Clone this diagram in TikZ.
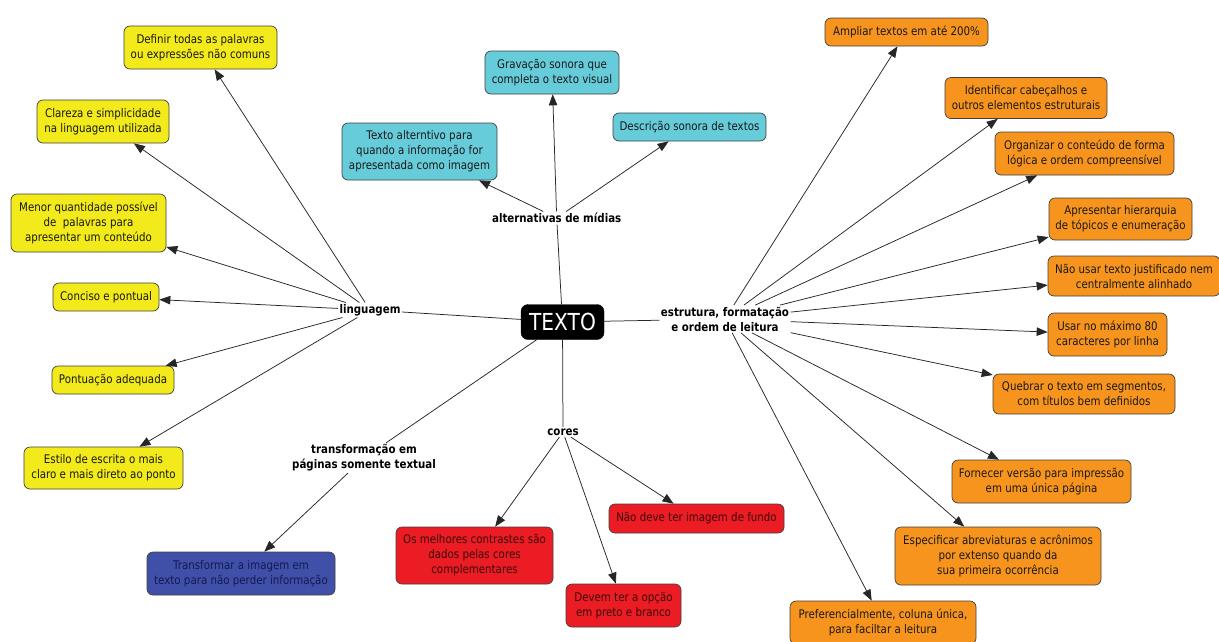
\documentclass[tikz,border=0pt]{standalone}
\usepackage{fontspec}
\setmainfont{DejaVu Sans}[FakeStretch=0.862]
\usetikzlibrary{arrows.meta}
\definecolor{cyel}{HTML}{F2EA1A}
\definecolor{ccya}{HTML}{66CCD9}
\definecolor{cora}{HTML}{F7941D}
\definecolor{cred}{HTML}{EC1C24}
\definecolor{cblu}{HTML}{4050A8}
\definecolor{credt}{HTML}{3A0808}
\definecolor{cblut}{HTML}{141A50}
\newcommand{\fs}{\fontsize{11.9}{15}\selectfont}
\tikzset{
  box/.style={draw=black!75, line width=0.7pt, rounded corners=6pt, align=center,
    inner sep=0pt, font=\fs, text=black!90},
  yel/.style={box, fill=cyel},
  cya/.style={box, fill=ccya},
  ora/.style={box, fill=cora},
  red/.style={box, fill=cred, text=credt},
  blu/.style={box, fill=cblu, text=cblut},
  lab/.style={font=\bfseries\fs, align=center, inner sep=1.5pt, text=black},
  conn/.style={draw=black!85, line width=0.75pt},
  arr/.style={conn, -{Triangle[length=11pt,width=8.5pt]}},
  sz/.style 2 args={minimum width=#1pt, minimum height=#2pt}
}
\begin{document}
\begin{tikzpicture}[x=1pt,y=-1pt]
\useasboundingbox (0,0) rectangle (1219,641);
\clip (0,0) rectangle (1219,641);
\fill[white] (0,0) rectangle (1219,641);

% center
\node[draw=black, fill=black, rounded corners=7pt, text=white, font=\fontsize{23.4}{25}\selectfont,
  minimum width=83pt, minimum height=35pt, inner sep=0pt] (texto) at (562.5,322) {TEXTO};

% labels
\node[lab] (ling) at (370,310) {linguagem};
\node[lab] (alti) at (556.7,218) {alternativas de mídias};
\node[lab] (estr) at (725,319) {estrutura, formatação\\e ordem de leitura};
\node[lab] (cores) at (563,432) {cores};
\node[lab] (transf) at (364,458) {transformação em\\páginas somente textual};

% yellow
\node[yel, sz={153}{43}] (def) at (200.5,47.5) {Definir todas as palavras\\ou expressões não comuns};
\node[yel, sz={132}{43}] (cla) at (103,121.5) {Clareza e simplicidade\\na linguagem utilizada};
\node[yel, sz={155}{58}] (men) at (88.5,223) {Menor quantidade possível\\de\ \ palavras para\\apresentar um conteúdo};
\node[yel, sz={106}{28}] (con) at (106,297) {Conciso e pontual};
\node[yel, sz={122}{28}] (pon) at (113,380) {Pontuação adequada};
\node[yel, sz={159}{42}] (est) at (103.5,468) {Estilo de escrita o mais\\claro e mais direto ao ponto};

% blue
\node[blu, sz={188}{43}] (tra) at (241,573.5) {Transformar a imagem em\\texto para não perder informação};

% cyan
\node[cya, sz={134}{43}] (gra) at (552,72.5) {Gravação sonora que\\completa o texto visual};
\node[cya, sz={155}{57}] (alt) at (419.5,151.5) {Texto alterntivo para\\quando a informação for\\apresentada como imagem};
\node[cya, sz={153}{28}] (des) at (689.5,127) {Descrição sonora de textos};

% red
\node[red, sz={157}{57}] (mel) at (474.5,555.5) {Os melhores contrastes são\\dados pelas cores\\complementares};
\node[red, sz={175}{29}] (nao) at (696.5,518.5) {Não deve ter imagem de fundo};
\node[red, sz={115}{43}] (dev) at (623.5,605.5) {Devem ter a opção\\em preto e branco};

% orange
\node[ora, sz={163}{28}] (amp) at (906.5,32) {Ampliar textos em até 200\%};
\node[ora, sz={162}{41}] (ide) at (1026,98) {Identificar cabeçalhos e\\outros elementos estruturais};
\node[ora, sz={179}{43}] (org) at (1084.5,153.5) {Organizar o conteúdo de forma\\lógica e ordem compreensível};
\node[ora, sz={143}{42}] (apr) at (1120.5,219) {Apresentar hierarquia\\de tópicos e enumeração};
\node[ora, sz={172}{40}] (nus) at (1134,276) {Não usar texto justificado nem\\centralmente alinhado};
\node[ora, sz={119}{43}] (usa) at (1107.5,334.5) {Usar no máximo 80\\caracteres por linha};
\node[ora, sz={182}{40}] (que) at (1084,394) {Quebrar o texto em segmentos,\\com títulos bem definidos};
\node[ora, sz={179}{43}] (for) at (1041.5,481.5) {Fornecer versão para impressão\\em uma única página};
\node[ora, sz={206}{58}] (esp) at (998,556) {Especificar abreviaturas e acrônimos\\por extenso quando da\\sua primeira ocorrência};
\node[ora, sz={186}{43}] (pre) at (883,622.5) {Preferencialmente, coluna única,\\para faciltar a leitura};

% center links
\draw[conn] (texto) -- (ling);
\draw[conn] (texto) -- (alti);
\draw[conn] (texto) -- (estr);
\draw[conn] (texto) -- (cores);
\draw[conn] (texto) -- (transf);

% arrows
\foreach \t in {def,cla,men,con,pon,est} \draw[arr] (ling) -- (\t);
\draw[arr] (transf) -- (tra);
\foreach \t in {gra,alt,des} \draw[arr] (alti) -- (\t);
\foreach \t in {mel,nao,dev} \draw[arr] (cores) -- (\t);
\foreach \t in {amp,ide,org,apr,nus,usa,que,for,esp,pre} \draw[arr] (estr) -- (\t);
\end{tikzpicture}
\end{document}
